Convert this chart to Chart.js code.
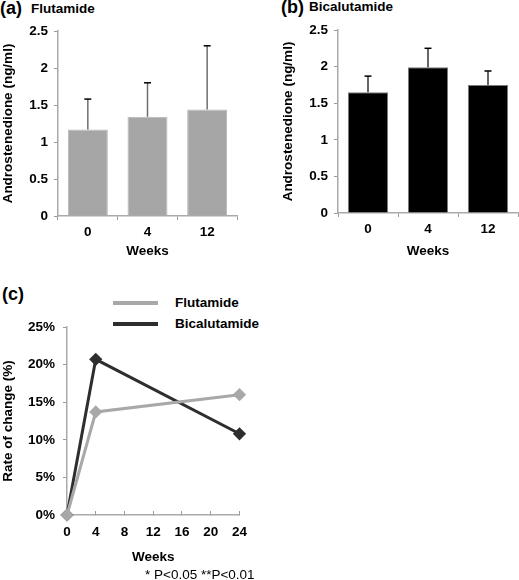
<!DOCTYPE html>
<html>
<head>
<meta charset="utf-8">
<script src="https://cdn.jsdelivr.net/npm/chart.js@4"></script>
<style>
  body { margin: 0; background: #fff; }
  #wrap { position: relative; width: 519px; height: 580px; overflow: hidden;
          font-family: "Liberation Sans", Arial, sans-serif; color: #000; }
  canvas { position: absolute; }
  .lbl { position: absolute; white-space: nowrap; font-weight: bold; line-height: 1; }
  .big { font-size: 18px; }
  .mid { font-size: 13.5px; }
  .legline { position: absolute; height: 4px; width: 45px; }
</style>
</head>
<body>
<div id="wrap">
  <div class="lbl big" style="left:0px;top:-1px;">(a)</div>
  <div class="lbl mid" style="left:31px;top:2px;">Flutamide</div>
  <canvas id="chartA" width="250" height="270" style="left:0;top:0;"></canvas>

  <div class="lbl big" style="left:281px;top:-2px;">(b)</div>
  <div class="lbl mid" style="left:309px;top:0px;">Bicalutamide</div>
  <canvas id="chartB" width="239" height="270" style="left:280px;top:0;"></canvas>

  <div class="lbl big" style="left:2px;top:285px;">(c)</div>
  <div id="legendC"></div>
  <canvas id="chartC" width="260" height="300" style="left:0;top:280px;"></canvas>
  <div class="lbl" style="left:145px;top:568px;font-size:13.5px;font-weight:normal;">* P&lt;0.05 **P&lt;0.01</div>
</div>

<script>
// (a), (b) 안드로스텐디온 수치
const weekLabels = ['0', '4', '12'];
const flutMean = [1.17, 1.34, 1.44];
const flutSD   = [0.41, 0.46, 0.86];
const bicaMean = [1.65, 1.99, 1.75];
const bicaSD   = [0.22, 0.26, 0.19];

// (c) 변화율
const rateWeeks = [0, 4, 24];
const flutRate  = [0, 13.7, 16.0];
const bicaRate  = [0, 20.7, 10.8];
const seriesNames = ['Flutamide', 'Bicalutamide'];
const seriesColors = ['#a8a8a8', '#2e2e2e'];

Chart.defaults.font.family = '"Liberation Sans", Arial, sans-serif';
Chart.defaults.color = '#000';

// 에러바 (위쪽만)
const errorBars = {
  id: 'errorBars',
  afterDatasetsDraw(chart, args, opts) {
    const ctx = chart.ctx;
    const meta = chart.getDatasetMeta(0);
    const y = chart.scales.y;
    const vals = chart.data.datasets[0].data;
    ctx.save();
    meta.data.forEach(function(bar, i) {
      const top = y.getPixelForValue(vals[i] + opts.sd[i]);
      const base = y.getPixelForValue(vals[i]);
      ctx.strokeStyle = opts.stem;
      ctx.lineWidth = 1.5;
      ctx.beginPath();
      ctx.moveTo(bar.x, base);
      ctx.lineTo(bar.x, top);
      ctx.stroke();
      ctx.strokeStyle = '#000';
      ctx.lineWidth = 1.5;
      ctx.beginPath();
      ctx.moveTo(bar.x - 3.5, top);
      ctx.lineTo(bar.x + 3.5, top);
      ctx.stroke();
    });
    ctx.restore();
  }
};

const tickFont = { size: 13.5, weight: 'bold' };
const titleFont = { size: 13.5, weight: 'bold' };

function barChart(id, means, sds, fill, border, stem, pad, xHeight) {
  return new Chart(document.getElementById(id), {
    type: 'bar',
    data: {
      labels: weekLabels,
      datasets: [{
        data: means,
        backgroundColor: fill,
        borderColor: border,
        borderWidth: 1,
        categoryPercentage: 1,
        barPercentage: 0.67
      }]
    },
    plugins: [errorBars],
    options: {
      responsive: false,
      animation: false,
      devicePixelRatio: 1,
      layout: { padding: pad },
      plugins: {
        legend: { display: false },
        tooltip: { enabled: false },
        errorBars: { sd: sds, stem: stem }
      },
      scales: {
        y: {
          min: 0, max: 2.5,
          afterFit: function(s) { s.width = 58; },
          ticks: { stepSize: 0.5, padding: 6, font: tickFont,
                   callback: function(v) { return String(Number(v.toFixed(1))); } },
          grid: { drawOnChartArea: false, tickLength: 4, color: '#999' },
          border: { color: '#aaa', width: 1.5 },
          title: { display: true, text: 'Androstenedione (ng/ml)',
                   font: titleFont, padding: { top: 0, bottom: 0 } }
        },
        x: {
          afterFit: function(s) { s.height = xHeight; },
          ticks: { padding: 4, font: tickFont },
          grid: { drawOnChartArea: false, tickLength: 4, color: '#999', offset: true },
          border: { color: '#aaa', width: 1.5 },
          title: { display: true, text: 'Weeks',
                   font: titleFont, padding: { top: 0, bottom: 11 } }
        }
      }
    }
  });
}

// chart area: A 58..237 x 31..216, B 58..238 x 30..213
barChart('chartA', flutMean, flutSD, '#a6a6a6', '#b8b8b8', '#6e6e6e',
         { top: 31, right: 13, bottom: 0, left: 0 }, 54);
barChart('chartB', bicaMean, bicaSD, '#000', '#7a7a7a', '#333',
         { top: 30, right: 1, bottom: 0, left: 0 }, 57);

// (c) 범례
const legend = document.getElementById('legendC');
seriesNames.forEach(function(name, i) {
  const yc = 303 + i * 20.5;
  legend.innerHTML +=
    '<div class="legline" style="left:113px;top:' + (yc - 2) + 'px;background:' + seriesColors[i] + ';"></div>' +
    '<div class="lbl mid" style="left:175px;top:' + (yc - 7) + 'px;">' + name + '</div>';
});

function pts(ys) {
  return rateWeeks.map(function(w, i) { return { x: w, y: ys[i] }; });
}

new Chart(document.getElementById('chartC'), {
  type: 'line',
  data: {
    datasets: [flutRate, bicaRate].map(function(d, i) {
      return {
        label: seriesNames[i],
        data: pts(d),
        borderColor: seriesColors[i],
        backgroundColor: seriesColors[i],
        borderWidth: 3,
        pointStyle: 'rectRot',
        pointRadius: 4.5,
        tension: 0,
        clip: false
      };
    })
  },
  options: {
    responsive: false,
    animation: false,
    devicePixelRatio: 1,
    layout: { padding: { top: 47, right: 20, bottom: 0, left: 0 } },
    plugins: { legend: { display: false }, tooltip: { enabled: false } },
    scales: {
      y: {
        min: 0, max: 25,
        afterFit: function(s) { s.width = 67; },
        ticks: { stepSize: 5, padding: 8, font: tickFont,
                 callback: function(v) { return v + '%'; } },
        grid: { drawOnChartArea: false, tickLength: 4, color: '#999' },
        border: { color: '#aaa', width: 1.5 },
        title: { display: true, text: 'Rate of change (%)',
                 font: titleFont, padding: { top: 0, bottom: 0 } }
      },
      x: {
        type: 'linear',
        min: 0, max: 24,
        afterFit: function(s) { s.height = 65; },
        ticks: { stepSize: 4, padding: 13, font: tickFont },
        grid: { drawOnChartArea: false, tickLength: -4, color: '#999' },
        border: { color: '#aaa', width: 1.5 },
        title: { display: true, text: 'Weeks',
                 font: titleFont, padding: { top: 0, bottom: 15 } }
      }
    }
  }
});
</script>
</body>
</html>
